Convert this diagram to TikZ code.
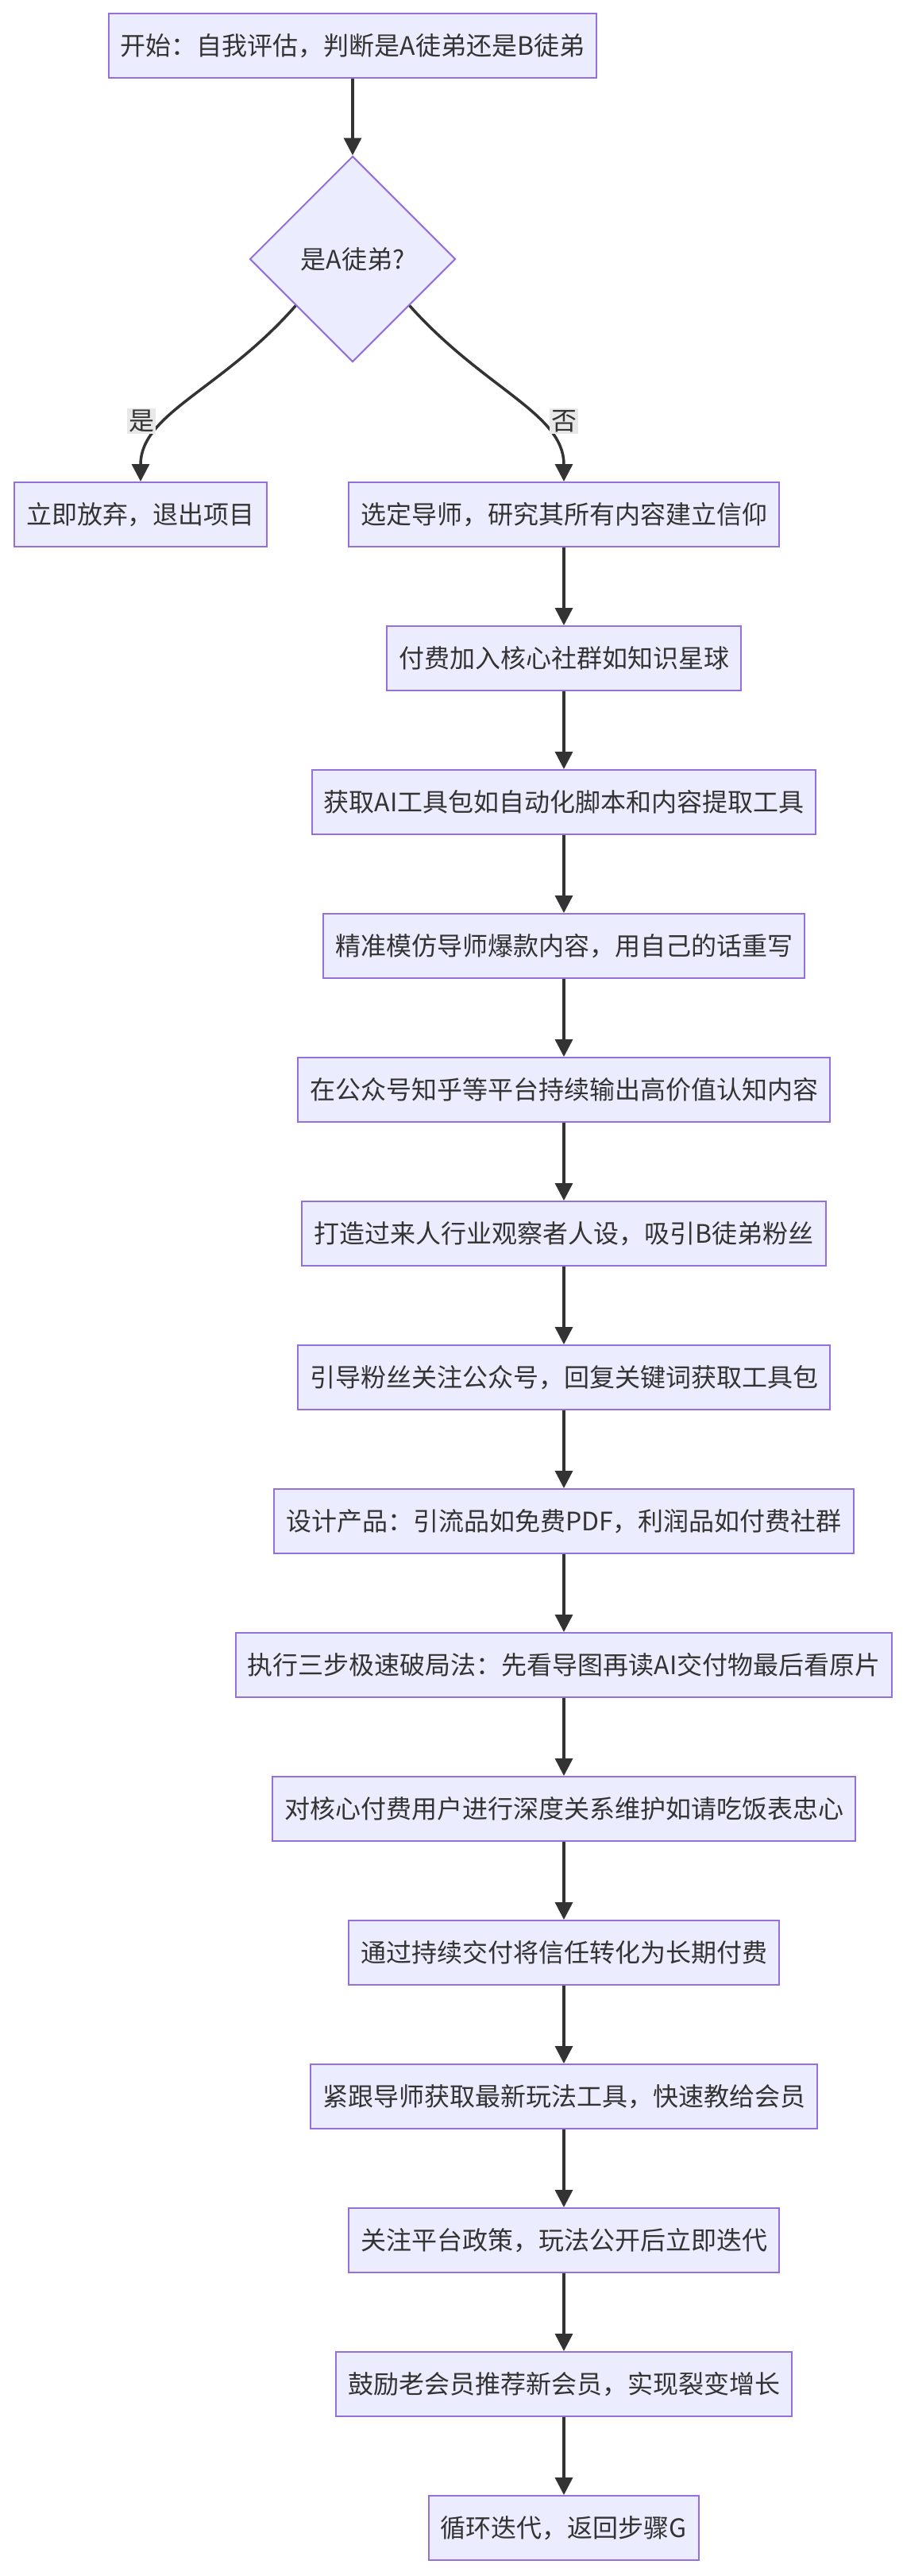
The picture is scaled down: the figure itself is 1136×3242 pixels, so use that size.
\documentclass[tikz,border=0pt]{standalone}
\usepackage{fontspec}
\setmainfont{Noto Sans CJK SC}
\usetikzlibrary{shapes.geometric,arrows.meta,calc}
\definecolor{nodefill}{HTML}{ECECFF}
\definecolor{nodeline}{HTML}{9370DB}
\definecolor{edgecol}{HTML}{333333}
\definecolor{lblbg}{HTML}{E8E8E8}
\begin{document}
\begin{tikzpicture}[x=1pt,y=-1pt,
  box/.style={draw=nodeline, fill=nodefill, line width=2pt, text=edgecol,
    font=\fontsize{32}{38}\selectfont, inner xsep=15pt, inner ysep=0pt,
    minimum height=81pt, anchor=north},
  decision/.style={diamond, aspect=1, draw=nodeline, fill=nodefill, line width=2pt,
    text=edgecol, font=\fontsize{32}{38}\selectfont, inner sep=0pt, minimum size=259pt},
  edge/.style={draw=edgecol, line width=3.5pt, -{Triangle[width=22pt,length=22pt]}},
  lbl/.style={fill=lblbg, text=edgecol, font=\fontsize{32}{38}\selectfont, inner sep=2pt}
]
\useasboundingbox[fill=white] (0,0) rectangle (1136,3242);

\node[box] (start) at (444,16) {开始：自我评估，判断是A徒弟还是B徒弟};
\node[decision] (dia) at (444,326) {是A徒弟?};
\node[box] (quit) at (177,606) {立即放弃，退出项目};

\node[box] (n1)  at (710,606)  {选定导师，研究其所有内容建立信仰};
\node[box] (n2)  at (710,787)  {付费加入核心社群如知识星球};
\node[box] (n3)  at (710,968)  {获取AI工具包如自动化脚本和内容提取工具};
\node[box] (n4)  at (710,1149) {精准模仿导师爆款内容，用自己的话重写};
\node[box] (n5)  at (710,1330) {在公众号知乎等平台持续输出高价值认知内容};
\node[box] (n6)  at (710,1511) {打造过来人行业观察者人设，吸引B徒弟粉丝};
\node[box] (n7)  at (710,1692) {引导粉丝关注公众号，回复关键词获取工具包};
\node[box] (n8)  at (710,1873) {设计产品：引流品如免费PDF，利润品如付费社群};
\node[box] (n9)  at (710,2054) {执行三步极速破局法：先看导图再读AI交付物最后看原片};
\node[box] (n10) at (710,2235) {对核心付费用户进行深度关系维护如请吃饭表忠心};
\node[box] (n11) at (710,2416) {通过持续交付将信任转化为长期付费};
\node[box] (n12) at (710,2597) {紧跟导师获取最新玩法工具，快速教给会员};
\node[box] (n13) at (710,2778) {关注平台政策，玩法公开后立即迭代};
\node[box] (n14) at (710,2959) {鼓励老会员推荐新会员，实现裂变增长};
\node[box] (n15) at (710,3140) {循环迭代，返回步骤G};

\draw[edge] (start.south) -- (dia.north);
\draw[edge] ($(dia.west)!0.45!(dia.south)$) .. controls (280,490) and (177,520) .. (quit.north);
\draw[edge] ($(dia.east)!0.45!(dia.south)$) .. controls (610,490) and (710,520) .. (n1.north);

\foreach \a/\b in {n1/n2,n2/n3,n3/n4,n4/n5,n5/n6,n6/n7,n7/n8,n8/n9,n9/n10,n10/n11,n11/n12,n12/n13,n13/n14,n14/n15}
  \draw[edge] (\a.south) -- (\b.north);

\node[lbl] (yes) at (178,530) {是};
\node[lbl] (no) at (710,530) {否};
\end{tikzpicture}
\end{document}
